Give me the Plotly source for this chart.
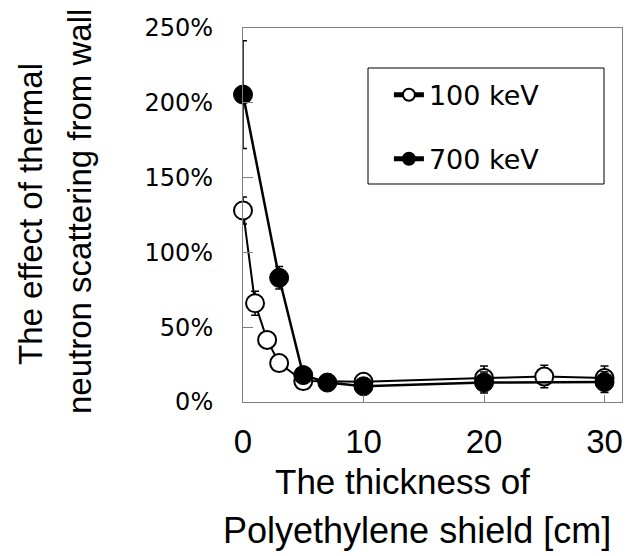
import plotly.graph_objects as go

# Data
x_100 = [0, 1, 2, 3, 5, 10, 20, 25, 30]
y_100 = [128, 66, 41.5, 26, 14, 13.5, 16, 17, 16]
err_100 = [9, 8, 4, 4, 4, 4, 8, 7.5, 8]

x_700 = [0, 3, 5, 7, 10, 20, 30]
y_700 = [205.5, 83, 18, 13, 10.5, 13, 13.3]
err_700 = [36, 7.5, 4, 4, 4, 7, 7]

y_ticks = [0, 50, 100, 150, 200, 250]
y_ticklabels = ["0%", "50%", "100%", "150%", "200%", "250%"]
x_ticks = [0, 10, 20, 30]

x_title_lines = ["The thickness of", "Polyethylene shield [cm]"]
y_title_lines = ["The effect of thermal", "neutron scattering from wall"]

FONT = "Liberation Sans, Arial, sans-serif"
WIDE = "DejaVu Sans, sans-serif"

# page body has an 8px margin; size the figure so the plot lands where the reference has it
OFF = 8
W, H = 634 - OFF, 556 - OFF
L, R, T, B = 243 - OFF, 12, 28 - OFF, 154
PW, PH = W - L - R, H - T - B


def px(xpage):
    return (xpage - OFF - L) / PW


def py(ypage):
    return (H - B - (ypage - OFF)) / PH


fig = go.Figure()
fig.add_trace(go.Scatter(
    x=x_100, y=y_100, name="100 keV", mode="lines+markers",
    line=dict(color="black", width=2),
    marker=dict(symbol="circle", size=18, color="white",
                line=dict(color="black", width=2)),
    error_y=dict(type="data", array=err_100, color="black", thickness=1.5, width=4),
    cliponaxis=False, legendgroup="a",
))
fig.add_trace(go.Scatter(
    x=x_700, y=y_700, name="700 keV", mode="lines+markers",
    line=dict(color="black", width=2.5),
    marker=dict(symbol="circle", size=19, color="black",
                line=dict(color="black", width=1)),
    error_y=dict(type="data", array=err_700, color="black", thickness=1.5, width=4),
    cliponaxis=False, legendgroup="b",
))

annotations = [
    dict(text=x_title_lines[0], x=px(402), y=py(481), font=dict(size=35, family=FONT)),
    dict(text=x_title_lines[1], x=px(417), y=py(530), font=dict(size=36, family=FONT)),
    dict(text=y_title_lines[0], x=px(30), y=py(214), textangle=-90,
         font=dict(size=33, family=FONT)),
    dict(text=y_title_lines[1], x=px(79), y=py(212), textangle=-90,
         font=dict(size=33, family=FONT)),
]
for a in annotations:
    a.update(xref="paper", yref="paper", xanchor="center", yanchor="middle",
             showarrow=False)

fig.update_layout(
    width=W, height=H,
    margin=dict(l=L, r=R, t=T, b=B),
    paper_bgcolor="white", plot_bgcolor="white",
    font=dict(family=FONT, color="black"),
    showlegend=True,
    legend=dict(
        x=0.385, y=0.886, xanchor="left", yanchor="top",
        bgcolor="rgba(0,0,0,0)", borderwidth=0,
        font=dict(size=27, family=WIDE),
        itemsizing="constant", tracegroupgap=26,
    ),
    xaxis=dict(
        range=[0, 31.45], tickvals=x_ticks, ticks="inside", ticklen=7,
        tickcolor="#808080", showline=True, linecolor="#808080", linewidth=1,
        mirror=True, showgrid=False, zeroline=False, automargin=False,
        tickfont=dict(size=33, family=FONT), ticklabelstandoff=10,
    ),
    yaxis=dict(
        range=[0, 250], tickvals=y_ticks, ticktext=y_ticklabels,
        ticks="inside", ticklen=10,
        tickcolor="#808080", showline=True, linecolor="#808080", linewidth=1,
        mirror=True, showgrid=False, zeroline=False, automargin=False,
        tickfont=dict(size=24, family=WIDE), ticklabelstandoff=24,
    ),
    annotations=annotations,
    shapes=[dict(type="rect", xref="paper", yref="paper",
                 x0=px(368), x1=px(604), y0=py(184), y1=py(68),
                 line=dict(color="black", width=1), fillcolor="rgba(0,0,0,0)")],
)

fig.write_html("out.html")
